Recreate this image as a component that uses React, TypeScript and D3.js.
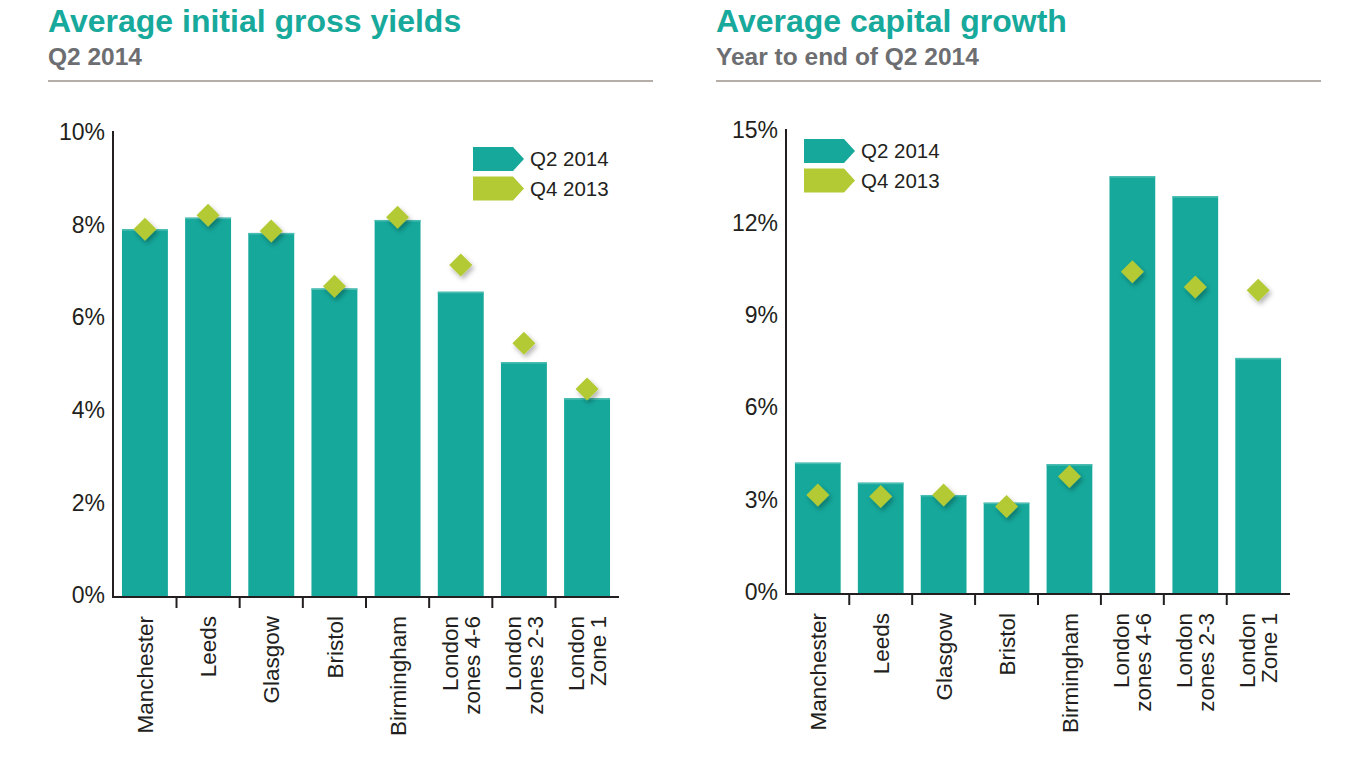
import React from 'react';
import * as d3 from 'd3';

// categories shared by both panels
const categories = [
  ['Manchester'],
  ['Leeds'],
  ['Glasgow'],
  ['Bristol'],
  ['Birmingham'],
  ['London', 'zones 4-6'],
  ['London', 'zones 2-3'],
  ['London', 'Zone 1'],
];

const yieldQ2_2014 = [7.9, 8.15, 7.82, 6.62, 8.1, 6.55, 5.03, 4.25];
const yieldQ4_2013 = [7.9, 8.2, 7.86, 6.67, 8.16, 7.13, 5.44, 4.45];
const yieldTicks = [0, 2, 4, 6, 8, 10];

const growthQ2_2014 = [4.2, 3.55, 3.15, 2.9, 4.15, 13.5, 12.85, 7.6];
const growthQ4_2013 = [3.15, 3.1, 3.15, 2.78, 3.75, 10.4, 9.9, 9.8];
const growthTicks = [0, 3, 6, 9, 12, 15];

const legendLabels = ['Q2 2014', 'Q4 2013'];

const TEAL = '#15a89b';
const LIME = '#b3ca35';
const FONT = '"Liberation Sans", Arial, Helvetica, sans-serif';

interface PanelProps {
  title: string;
  subtitle: string;
  left: number;
  axisX: number;
  axisRight: number;
  yTop: number;
  yBottom: number;
  bars: number[];
  points: number[];
  ticks: number[];
  legendX: number;
  legendY: number;
}

const Panel: React.FC<PanelProps> = ({
  title, subtitle, left, axisX, axisRight, yTop, yBottom, bars, points, ticks, legendX, legendY,
}) => {
  const keys = categories.map(c => c.join(' '));
  const x = d3.scaleBand<string>()
    .domain(keys)
    .range([axisX, axisRight])
    .paddingInner(0.273)
    .paddingOuter(0.142);
  const y = d3.scaleLinear()
    .domain([0, d3.max(ticks) || 0])
    .range([yBottom, yTop]);
  const step = x.step();
  const bw = x.bandwidth();
  const base = y(0) + 2;
  const d = 11.5;

  return (
    <g>
      <text x={left} y={32} fill="#17a99b" fontFamily={FONT} fontWeight="bold" fontSize={32}>{title}</text>
      <text x={left} y={65} fill="#6d6e71" fontFamily={FONT} fontWeight="bold" fontSize={24.5}>{subtitle}</text>
      <line x1={left} x2={left + 605} y1={81} y2={81} stroke="#b5aea8" strokeWidth={2.2} />

      {ticks.map(t => (
        <text key={t} x={axisX - 8} y={y(t)} dy="0.36em" textAnchor="end"
          fontFamily={FONT} fontSize={23} fill="#231f20">{t}%</text>
      ))}

      {bars.map((v, i) => (
        <g key={keys[i]}>
          <rect x={x(keys[i])} y={y(v)} width={bw} height={base - y(v)} fill={TEAL} />
          <rect x={x(keys[i])} y={y(v)} width={bw} height={1.5} fill="#4cbdb2" />
        </g>
      ))}

      {points.map((v, i) => {
        const cx = (x(keys[i]) || 0) + bw / 2;
        const cy = y(v);
        return (
          <polygon key={keys[i]} filter="url(#dshadow)" fill={LIME}
            points={`${cx},${cy - d} ${cx + d},${cy} ${cx},${cy + d} ${cx - d},${cy}`} />
        );
      })}

      <line x1={axisX} x2={axisX} y1={yTop - 1} y2={base} stroke="#231f20" strokeWidth={2} />
      <line x1={axisX - 1} x2={axisRight} y1={base} y2={base} stroke="#231f20" strokeWidth={2} />
      {keys.slice(1).map(k => {
        const tx = (x(k) || 0) - step * 0.273 / 2;
        return <line key={k} x1={tx} x2={tx} y1={base} y2={base + 11} stroke="#231f20" strokeWidth={2} />;
      })}

      {categories.map((lines, i) => {
        const cx = (x(keys[i]) || 0) + bw / 2;
        return (
          <text key={keys[i]} transform={`translate(${cx},${base + 19}) rotate(-90)`} textAnchor="end"
            fontFamily={FONT} fontSize={22.5} fill="#231f20">
            {lines.map((ln, j) => (
              <tspan key={ln} x={0} y={(j - (lines.length - 1) / 2) * 22} dy="0.36em">{ln}</tspan>
            ))}
          </text>
        );
      })}

      {legendLabels.map((lab, i) => {
        const ly = legendY + i * 29.5;
        const h = 24;
        return (
          <g key={lab}>
            <polygon fill={i === 0 ? TEAL : LIME}
              points={`${legendX},${ly} ${legendX + 40},${ly} ${legendX + 51},${ly + h / 2} ${legendX + 40},${ly + h} ${legendX},${ly + h}`} />
            <text x={legendX + 57} y={ly + h / 2} dy="0.36em" fontFamily={FONT} fontSize={20.5} fill="#231f20">{lab}</text>
          </g>
        );
      })}

      <text x={left} y={781} fontFamily={FONT} fontSize={19} fill="#b8b8b8">Source: Knight Frank Residential Research</text>
    </g>
  );
};

export default function App() {
  return (
    <svg width={1366} height={768} style={{ position: 'absolute', left: 0, top: 0, background: '#fff' }}>
      <defs>
        <filter id="dshadow" x="-50%" y="-50%" width="200%" height="200%">
          <feDropShadow dx={2} dy={3} stdDeviation={2.5} floodColor="#000" floodOpacity={0.3} />
        </filter>
      </defs>
      <rect width={1366} height={768} fill="#fff" />
      <Panel title="Average initial gross yields" subtitle="Q2 2014" left={48}
        axisX={113} axisRight={619} yTop={132} yBottom={595}
        bars={yieldQ2_2014} points={yieldQ4_2013} ticks={yieldTicks}
        legendX={473} legendY={147} />
      <Panel title="Average capital growth" subtitle="Year to end of Q2 2014" left={716}
        axisX={786} axisRight={1290} yTop={130} yBottom={592}
        bars={growthQ2_2014} points={growthQ4_2013} ticks={growthTicks}
        legendX={804} legendY={139} />
    </svg>
  );
}
